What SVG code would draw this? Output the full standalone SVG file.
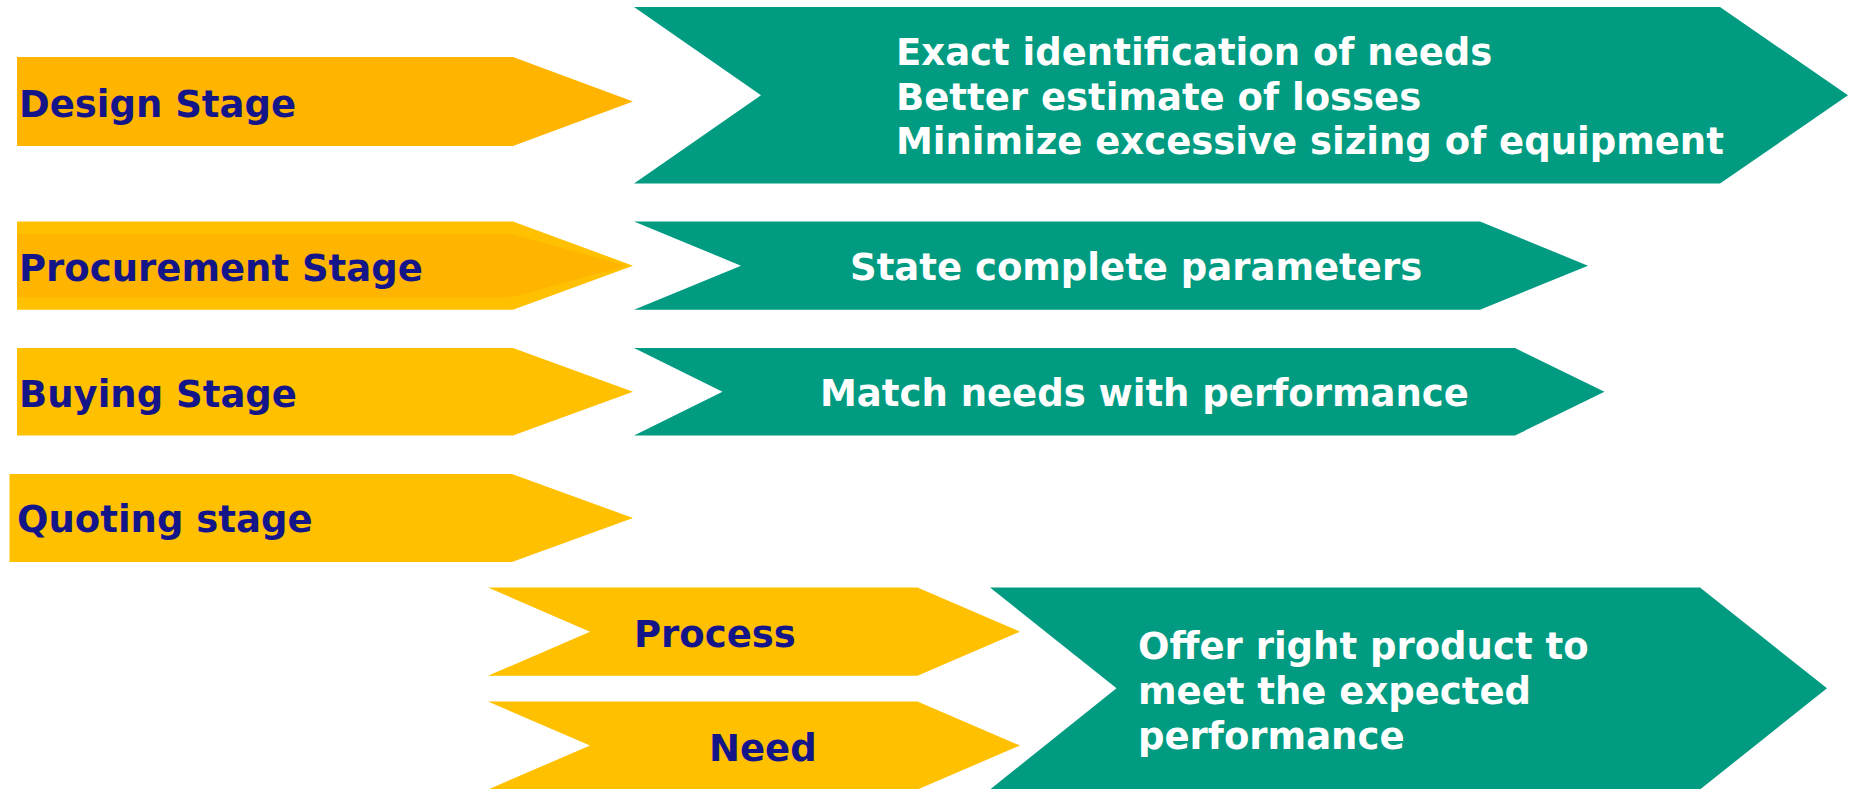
<svg xmlns="http://www.w3.org/2000/svg" width="1854" height="789" viewBox="0 0 1854 789">
<style>
.y1{fill:#FFB400}
.y2{fill:#FFC000}
.tl{fill:#009B80}
.lab{font-family:"DejaVu Sans",Verdana,sans-serif;font-weight:bold;font-size:37px;fill:#15158A}
.wt{font-family:"DejaVu Sans",Verdana,sans-serif;font-weight:bold;font-size:37px;fill:#FFFFFF}
</style>
<rect width="1854" height="789" fill="#FFFFFF"/>
<g id="design-stage">
<polygon class="y1" points="17,57 513,57 633,101.5 513,146 17,146"/>
<text class="lab" x="19" y="117">Design Stage</text>
</g>
<g id="design-benefits">
<polygon class="tl" points="634,7 1720,7 1848,95.3 1720,183.5 634,183.5 761,95.3"/>
<text class="wt" x="896" y="65">Exact identification of needs</text>
<text class="wt" x="896" y="109.5">Better estimate of losses</text>
<text class="wt" x="896" y="154">Minimize excessive sizing of equipment</text>
</g>
<g id="procurement-stage">
<polygon class="y2" points="17,221.5 513,221.5 633,265.7 513,309.8 17,309.8"/>
<polygon class="y1" points="17,234 511,234 627,265.7 511,297.3 17,297.3"/>
<text class="lab" x="19" y="281">Procurement Stage</text>
</g>
<g id="procurement-benefits">
<polygon class="tl" points="634,221.5 1480,221.5 1588,265.7 1480,309.8 634,309.8 741,265.7"/>
<text class="wt" x="850" y="280">State complete parameters</text>
</g>
<g id="buying-stage">
<polygon class="y2" points="17,348 513,348 633,391.8 513,435.5 17,435.5"/>
<text class="lab" x="19" y="407">Buying Stage</text>
</g>
<g id="buying-benefits">
<polygon class="tl" points="634,348 1515,348 1604.5,391.8 1515,435.5 634,435.5 722.5,391.8"/>
<text class="wt" x="820" y="406">Match needs with performance</text>
</g>
<g id="quoting-stage">
<polygon class="y2" points="9.5,474 512,474 633,518 512,562 9.5,562"/>
<text class="lab" x="17" y="532">Quoting stage</text>
</g>
<g id="process">
<polygon class="y2" points="488,587.5 917.5,587.5 1020,631.7 917.5,675.8 488,675.8 590,631.7"/>
<text class="lab" x="634" y="647">Process</text>
</g>
<g id="need">
<polygon class="y2" points="488,701.5 917.5,701.5 1020,745.5 917.5,789.5 488,789.5 590,745.5"/>
<text class="lab" x="709" y="761">Need</text>
</g>
<g id="quoting-benefits">
<polygon class="tl" points="990,587.5 1700,587.5 1827,688.3 1700,789.5 990,789.5 1116.5,688.3"/>
<text class="wt" x="1138" y="659">Offer right product to</text>
<text class="wt" x="1138" y="704">meet the expected</text>
<text class="wt" x="1138" y="748.5">performance</text>
</g>
<g id="connectors"></g>
</svg>
